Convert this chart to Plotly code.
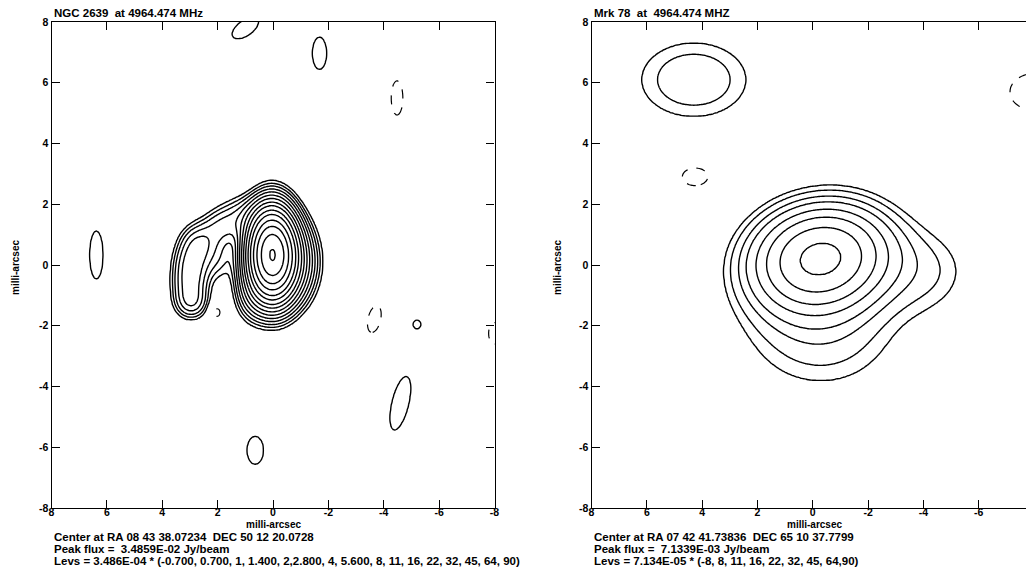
import numpy as np
import plotly.graph_objects as go

# page is 1034x582; the html body adds an 8px margin, so the figure is drawn 8px in
PAGE_OFF = 8
W, H = 1034 - PAGE_OFF, 582 - PAGE_OFF
FONT = "Liberation Sans"

# ---------------- Panel 1 : NGC 2639 ----------------
ngc_title = "NGC 2639  at 4964.474 MHz"
ngc_info = ["Center at RA 08 43 38.07234  DEC 50 12 20.0728",
            "Peak flux =  3.4859E-02 Jy/beam",
            "Levs = 3.486E-04 * (-0.700, 0.700, 1, 1.400, 2,2.800, 4, 5.600, 8, 11, 16, 22, 32, 45, 64, 90)"]
ngc_pos_levels = [0.7, 1, 1.4, 2, 2.8, 4, 5.6, 8, 11, 16, 22, 32, 45, 64, 90]
ngc_neg_levels = [0.7]
# brightness components (mas offsets, amplitude in units of the base level)
ngc_cx  = [0.04, -0.4, 1.0, 0.75,   1.9, 2.7, 2.95, 3.0, 2.95, 2.0,
           1.0, -1.68, -4.48, 6.38, -3.66, -5.2, -8.0, -4.6, 0.64, 2.04]
ngc_cy  = [0.35, 0.1, 1.6, -0.9,    1.25, 0.7, 0.05, -0.65, -1.25, 0.2,
           7.8, 6.97, 5.5, 0.33, -1.78, -1.95, -2.25, -4.55, -6.1, -1.55]
ngc_amp = [85, 10, 1.6, 2.0,        1.8, 2.3, 2.5, 2.5, 2.1, 1.0,
           1.0, 0.95, -0.95, 0.95, -0.9, 0.8, -0.9, 0.95, 0.9, -0.95]
ngc_sx  = [0.46, 0.6, 0.55, 0.4,    0.5, 0.42, 0.4, 0.4, 0.38, 0.4,
           0.62, 0.32, 0.27, 0.30, 0.32, 0.2, 0.3, 0.38, 0.41, 0.19]
ngc_sy  = [0.78, 0.8, 0.45, 0.6,    0.4, 0.42, 0.45, 0.45, 0.35, 0.5,
           0.3, 0.67, 0.72, 1.0, 0.64, 0.2, 0.5, 1.15, 0.64, 0.22]
ngc_pa  = [0, 0, 0, 0,              -20, -30, 0, 0, 0, 0,
           -31, 0, 0, 0, 15, 0, 0, 15, 0, 0]

# ---------------- Panel 2 : Mrk 78 ----------------
mrk_title = "Mrk 78  at  4964.474 MHZ"
mrk_info = ["Center at RA 07 42 41.73836  DEC 65 10 37.7799",
            "Peak flux =  7.1339E-03 Jy/beam",
            "Levs = 7.134E-05 * (-8, 8, 11, 16, 22, 32, 45, 64,90)"]
mrk_pos_levels = [8, 11, 16, 22, 32, 45, 64, 90]
mrk_neg_levels = [8]
mrk_cx  = [-0.28, -4.2, -0.3, 4.3, 4.25, -8.0]
mrk_cy  = [0.25, -0.2, -2.2, 6.1, 2.92, 5.7]
mrk_amp = [97, 9.5, 14, 15, -9.5, -10]
mrk_sx  = [1.52, 1.3, 2.1, 1.67, 0.85, 1.3]
mrk_sy  = [1.05, 1.1, 1.5, 1.07, 0.55, 0.9]
mrk_pa  = [-8, 0, 0, 0, 0, 0]

axis_ticks = [-8, -6, -4, -2, 0, 2, 4, 6, 8]
axis_title = "milli-arcsec"

grid = np.round(np.arange(-8.4, 8.4001, 0.05), 3)


def px_x(px):
    return (px - PAGE_OFF) / W


def px_y(py):
    return 1 - (py - PAGE_OFF) / H


def field(cx, cy, amp, sx, sy, pa):
    X, Y = np.meshgrid(grid, grid)
    F = np.zeros_like(X)
    for x0, y0, a, s1, s2, p in zip(cx, cy, amp, sx, sy, pa):
        t = np.deg2rad(p)
        u = (X - x0) * np.cos(t) + (Y - y0) * np.sin(t)
        v = -(X - x0) * np.sin(t) + (Y - y0) * np.cos(t)
        F += a * np.exp(-0.5 * ((u / s1) ** 2 + (v / s2) ** 2))
    return F


def level_index(F, levels, top):
    # map each contour level onto an integer so that plotly can draw uneven levels
    lv = [0.0] + list(levels) + [2.0 * levels[-1]]
    ix = [-1.0] + list(range(len(levels))) + [top]
    return np.round(np.interp(F, lv, ix), 3)


def contour_traces(F, pos, neg, xa, ya):
    black = [[0, "black"], [1, "black"]]
    return [
        go.Contour(x=grid, y=grid, z=level_index(F, pos, float(len(pos))), xaxis=xa, yaxis=ya,
                   autocontour=False,
                   contours=dict(start=0, end=len(pos) - 1, size=1, coloring="lines"),
                   colorscale=black, showscale=False,
                   line=dict(width=1.4, smoothing=0.8), hoverinfo="skip"),
        go.Contour(x=grid, y=grid, z=level_index(-F, neg, 0.9), xaxis=xa, yaxis=ya,
                   autocontour=False,
                   contours=dict(start=0, end=1, size=1, coloring="lines"),
                   colorscale=black, showscale=False,
                   line=dict(width=1.2, dash="dash", smoothing=0.8), hoverinfo="skip"),
    ]


fig = go.Figure()
for tr in contour_traces(field(ngc_cx, ngc_cy, ngc_amp, ngc_sx, ngc_sy, ngc_pa),
                         ngc_pos_levels, ngc_neg_levels, "x", "y"):
    fig.add_trace(tr)
for tr in contour_traces(field(mrk_cx, mrk_cy, mrk_amp, mrk_sx, mrk_sy, mrk_pa),
                         mrk_pos_levels, mrk_neg_levels, "x2", "y2"):
    fig.add_trace(tr)

tickfont = dict(family=FONT, size=10.5, color="black", weight="bold")
titlefont = dict(family=FONT, size=10, color="black", weight="bold")
common = dict(tickvals=axis_ticks, ticktext=[str(v) for v in axis_ticks],
              ticks="inside", ticklen=8, tickwidth=1.2, tickcolor="black",
              showline=True, linecolor="black", linewidth=1.3, mirror="ticks",
              showgrid=False, zeroline=False, tickfont=tickfont, automargin=False)

ydom = [px_y(508), px_y(22)]
fig.update_layout(
    template="none",
    width=W, height=H, margin=dict(l=0, r=0, t=0, b=0, pad=0),
    paper_bgcolor="white", plot_bgcolor="white", showlegend=False,
    xaxis=dict(domain=[px_x(51.5), px_x(494.5)], anchor="y", range=[8, -8],
               ticklabelstandoff=-6, **common),
    yaxis=dict(domain=ydom, anchor="x", range=[-8, 8], **common),
    xaxis2=dict(domain=[px_x(591.5), 1.0], anchor="y2", range=[8, -8],
                ticklabelstandoff=-6, **common),
    yaxis2=dict(domain=ydom, anchor="x2", range=[-8, 8], **common),
)

txtfont = dict(family=FONT, size=11.5, color="black", weight="bold")
ann = []
for x0, xc, ytx, title, info in [(51.5, 273, 15, ngc_title, ngc_info),
                                 (591.5, 814, 557, mrk_title, mrk_info)]:
    ann.append(dict(x=px_x(x0), y=px_y(13), xref="paper", yref="paper", text=title,
                    showarrow=False, xanchor="left", yanchor="middle", font=txtfont))
    ann.append(dict(x=px_x(xc), y=px_y(524), xref="paper", yref="paper", text=axis_title,
                    showarrow=False, xanchor="center", yanchor="middle", font=titlefont))
    ann.append(dict(x=px_x(ytx), y=px_y(268), xref="paper", yref="paper", text=axis_title,
                    showarrow=False, xanchor="center", yanchor="middle", textangle=-90,
                    font=titlefont))
    for i, line in enumerate(info):
        ann.append(dict(x=px_x(x0), y=px_y(537 + 12 * i), xref="paper", yref="paper",
                        text=line, showarrow=False, xanchor="left", yanchor="middle",
                        font=txtfont))
fig.update_layout(annotations=ann)

fig.write_html("out.html")
